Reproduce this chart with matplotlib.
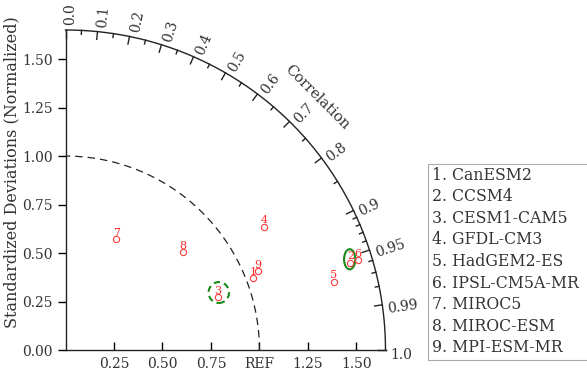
import numpy as np
import matplotlib
matplotlib.use("Agg")
import matplotlib.pyplot as plt
from matplotlib.patches import Ellipse, Rectangle

# Taylor diagram: normalized std dev and correlation for each model
models = ["CanESM2", "CCSM4", "CESM1-CAM5", "GFDL-CM3", "HadGEM2-ES",
          "IPSL-CM5A-MR", "MIROC5", "MIROC-ESM", "MPI-ESM-MR"]
std_dev = [1.036, 1.537, 0.831, 1.205, 1.428, 1.578, 0.628, 0.788, 1.073]
corr = [0.934, 0.956, 0.944, 0.849, 0.969, 0.956, 0.417, 0.769, 0.926]

corr_major = [0.0, 0.1, 0.2, 0.3, 0.4, 0.5, 0.6, 0.7, 0.8, 0.9, 0.95, 0.99, 1.0]
corr_minor = [0.05, 0.15, 0.25, 0.35, 0.45, 0.55, 0.65, 0.75, 0.85,
              0.91, 0.92, 0.93, 0.94, 0.96, 0.97, 0.98]
std_ticks = [0.0, 0.25, 0.50, 0.75, 1.00, 1.25, 1.50]
x_ticks = [0.25, 0.50, 0.75, 1.00, 1.25, 1.50]
x_labels = ["0.25", "0.50", "0.75", "REF", "1.25", "1.50"]

rmax = 1.65
font = "DejaVu Serif"
plt.rcParams["font.family"] = font

W, H = 587, 371
fig = plt.figure(figsize=(W / 100, H / 100), dpi=100)
ax = fig.add_axes([65.5 / W, 21 / H, 320 / W, 320 / H])
ax.set_xlim(0, rmax)
ax.set_ylim(0, rmax)
ax.set_aspect("equal")
for s in ["top", "right"]:
    ax.spines[s].set_visible(False)
for s in ["left", "bottom"]:
    ax.spines[s].set_linewidth(1.0)
    ax.spines[s].set_color("#222222")

ax.set_yticks(std_ticks)
ax.set_yticklabels([f"{v:.2f}" for v in std_ticks], fontsize=10, color="#333333")
ax.set_xticks(x_ticks)
ax.set_xticklabels(x_labels, fontsize=10, color="#333333")
ax.tick_params(axis="y", direction="out", length=6, width=1, pad=3)
ax.tick_params(axis="x", direction="in", length=6, width=1, pad=5)

# outer arc and REF arc
th = np.linspace(0, np.pi / 2, 300)
ax.plot(rmax * np.cos(th), rmax * np.sin(th), color="#222222", lw=1.0, clip_on=False)
ax.plot(np.cos(th), np.sin(th), color="#222222", lw=0.9, ls=(0, (6, 4)), clip_on=False)

# correlation ticks and labels
for c in corr_major:
    a = np.arccos(c)
    ax.plot([rmax * np.cos(a), (rmax - 0.04) * np.cos(a)],
            [rmax * np.sin(a), (rmax - 0.04) * np.sin(a)],
            color="#222222", lw=1.0, clip_on=False)
    lab = f"{c:g}" if c not in (0.0, 1.0) else f"{c:.1f}"
    a2 = a - np.radians(0.8)
    ax.text((rmax + 0.025) * np.cos(a2), (rmax + 0.025) * np.sin(a2), lab,
            rotation=np.degrees(a), rotation_mode="anchor", ha="left", va="center",
            fontsize=10, color="#333333")
for c in corr_minor:
    a = np.arccos(c)
    ax.plot([rmax * np.cos(a), (rmax - 0.02) * np.cos(a)],
            [rmax * np.sin(a), (rmax - 0.02) * np.sin(a)],
            color="#222222", lw=1.0, clip_on=False)

ang = np.radians(45.2)
ax.text(1.838 * np.cos(ang), 1.838 * np.sin(ang), "Correlation", rotation=-45,
        ha="center", va="center", fontsize=10.5, color="#333333")

# model points
xs = np.array(std_dev) * np.array(corr)
ys = np.array(std_dev) * np.sqrt(1 - np.array(corr) ** 2)
ax.plot(xs, ys, "o", mfc="none", mec="#ff3b3b", ms=4.5, mew=0.8, clip_on=False)
for i, (x, y) in enumerate(zip(xs, ys)):
    ax.annotate(str(i + 1), (x, y), xytext=(0, 4.5), textcoords="offset points",
                ha="center", va="center", fontsize=8, color="#ff2a2a")

# highlighted models
ax.add_patch(Ellipse((xs[2] + 0.006, ys[2] + 0.022), 0.105, 0.108, fill=False,
                     ec="#1a8a1a", lw=1.5, ls=(0, (3, 2))))
ax.add_patch(Ellipse((xs[1] - 0.004, ys[1] + 0.017), 0.058, 0.104, fill=False,
                     ec="#1a8a1a", lw=1.5))

fig.text(12 / W, 1 - 172 / H, "Standardized Deviations (Normalized)", rotation=90,
         ha="center", va="center", fontsize=11.5, color="#333333")

# legend box
fig.patches.append(Rectangle((428 / W, 1 - 360 / H), 170 / W, 196 / H, fill=False,
                             ec="#aaaaaa", lw=0.8, transform=fig.transFigure, clip_on=False))
for i, m in enumerate(models):
    fig.text(432 / W, 1 - (175 + i * 21.6) / H, f"{i + 1}. {m}", ha="left", va="center",
             fontsize=11.3, color="#333333")

fig.savefig("out.png", dpi=100)
